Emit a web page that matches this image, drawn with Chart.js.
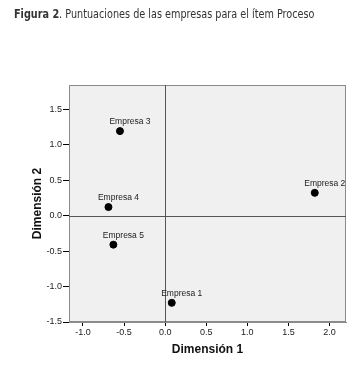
<!DOCTYPE html>
<html lang="es">
<head>
    <meta charset="UTF-8">
    <title>Figura 2</title>
    <script src="https://cdn.jsdelivr.net/npm/chart.js"></script>
    <style>
        body {
            margin: 0;
            background-color: white;
        }

        #wrap {
            position: relative;
            width: 364px;
            height: 372px;
        }

        #titulo {
            position: absolute;
            left: 14px;
            top: 6px;
            font-family: "Liberation Sans Narrow", "DejaVu Sans Condensed", sans-serif;
            font-size: 12.5px;
            color: #333;
            white-space: nowrap;
            transform: scaleX(0.86);
            transform-origin: left top;
        }

        #chart {
            position: absolute;
            left: 0;
            top: 0;
        }
    </style>
</head>
<body>
    <div id="wrap">
        <canvas id="chart" width="364" height="372"></canvas>
        <div id="titulo"><b>Figura 2</b>. Puntuaciones de las empresas para el ítem Proceso</div>
    </div>

    <script>
        const empresas = ['Empresa 1', 'Empresa 2', 'Empresa 3', 'Empresa 4', 'Empresa 5'];
        const dim1 = [0.08, 1.82, -0.55, -0.69, -0.63];
        const dim2 = [-1.23, 0.32, 1.19, 0.12, -0.41];
        const xTicks = [-1.0, -0.5, 0.0, 0.5, 1.0, 1.5, 2.0];
        const yTicks = [-1.5, -1.0, -0.5, 0.0, 0.5, 1.0, 1.5];

        // fondo gris del area, marco y lineas de referencia en 0
        const plotFrame = {
            id: 'plotFrame',
            beforeDatasetsDraw(chart) {
                const { ctx, chartArea: a, scales } = chart;
                ctx.save();
                ctx.fillStyle = '#f0f0f0';
                ctx.fillRect(a.left, a.top, a.right - a.left, a.bottom - a.top);
                ctx.strokeStyle = '#8a8a8a';
                ctx.lineWidth = 1;
                ctx.strokeRect(a.left + 0.5, a.top + 0.5, a.right - a.left - 1, a.bottom - a.top - 1);
                const x0 = Math.round(scales.x.getPixelForValue(0)) + 0.5;
                const y0 = Math.round(scales.y.getPixelForValue(0)) + 0.5;
                ctx.strokeStyle = '#555';
                ctx.beginPath();
                ctx.moveTo(x0, a.top);
                ctx.lineTo(x0, a.bottom);
                ctx.moveTo(a.left, y0);
                ctx.lineTo(a.right, y0);
                ctx.stroke();
                ctx.restore();
            }
        };

        const pointLabels = {
            id: 'pointLabels',
            afterDatasetsDraw(chart) {
                const { ctx } = chart;
                const meta = chart.getDatasetMeta(0);
                ctx.save();
                ctx.font = '8.5px "Liberation Sans", Arial, sans-serif';
                ctx.fillStyle = '#222';
                ctx.textAlign = 'center';
                ctx.textBaseline = 'bottom';
                meta.data.forEach((pt, i) => {
                    ctx.fillText(empresas[i], pt.x + 10, pt.y - 5);
                });
                ctx.restore();
            }
        };

        const ctx = document.getElementById('chart').getContext('2d');
        new Chart(ctx, {
            type: 'scatter',
            data: {
                datasets: [{
                    data: dim1.map((x, i) => ({ x: x, y: dim2[i] })),
                    backgroundColor: '#000',
                    borderColor: '#000',
                    pointRadius: 3.5,
                    pointHoverRadius: 3.5
                }]
            },
            options: {
                responsive: false,
                animation: false,
                layout: {
                    padding: { top: 85, right: 18, left: 0, bottom: 0 }
                },
                plugins: {
                    legend: { display: false },
                    tooltip: { enabled: false }
                },
                scales: {
                    x: {
                        type: 'linear',
                        min: -1.17,
                        max: 2.2,
                        afterBuildTicks: s => { s.ticks = xTicks.map(v => ({ value: v })); },
                        afterFit: s => { s.height = 50; },
                        grid: {
                            drawOnChartArea: false,
                            color: '#000',
                            tickLength: 4
                        },
                        border: { color: '#8a8a8a' },
                        ticks: {
                            padding: 1,
                            maxRotation: 0,
                            color: '#222',
                            font: { family: '"Liberation Sans", Arial, sans-serif', size: 9 },
                            callback: v => v.toFixed(1)
                        },
                        title: {
                            display: true,
                            text: 'Dimensión 1',
                            color: '#111',
                            padding: { top: 0, bottom: 15 },
                            font: { family: '"Liberation Sans", Arial, sans-serif', size: 12, weight: 'bold' }
                        }
                    },
                    y: {
                        type: 'linear',
                        min: -1.5,
                        max: 1.84,
                        afterBuildTicks: s => { s.ticks = yTicks.map(v => ({ value: v })); },
                        afterFit: s => { s.width = 69; },
                        grid: {
                            drawOnChartArea: false,
                            color: '#000',
                            tickLength: 6
                        },
                        border: { color: '#8a8a8a' },
                        ticks: {
                            padding: 1,
                            color: '#222',
                            font: { family: '"Liberation Sans", Arial, sans-serif', size: 9 },
                            callback: v => v.toFixed(1)
                        },
                        title: {
                            display: true,
                            text: 'Dimensión 2',
                            color: '#111',
                            padding: { top: 30, bottom: 0 },
                            font: { family: '"Liberation Sans", Arial, sans-serif', size: 12, weight: 'bold' }
                        }
                    }
                }
            },
            plugins: [plotFrame, pointLabels]
        });
    </script>
</body>
</html>
